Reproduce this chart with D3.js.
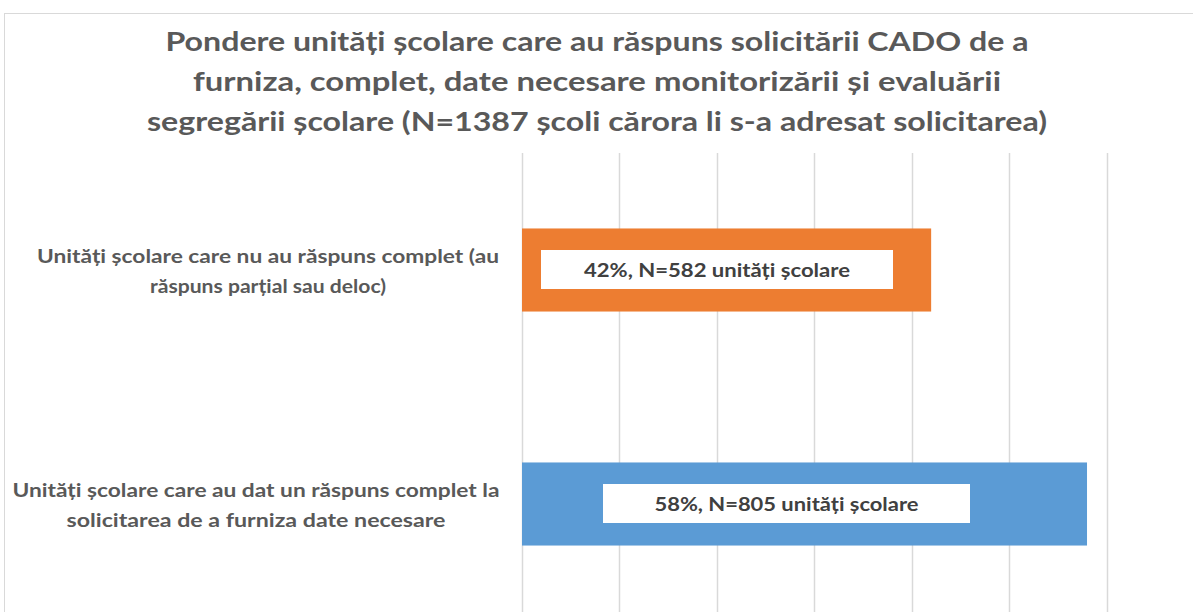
<!DOCTYPE html>
<html><head><meta charset="utf-8">
<script src="https://cdn.jsdelivr.net/npm/d3@7"></script>
<style>
html,body{margin:0;padding:0;background:#fff;overflow:hidden}
svg{display:block}
</style></head>
<body>
<svg id="chart" width="1193" height="612"></svg>
<script>
const titleLines = [
  "Pondere unități școlare care au răspuns solicitării CADO de a",
  "furniza, complet, date necesare monitorizării și evaluării",
  "segregării școlare (N=1387 școli cărora li s-a adresat solicitarea)"
];
const categories = [
  ["Unități școlare care nu au răspuns complet (au", "răspuns parțial sau deloc)"],
  ["Unități școlare care au dat un răspuns complet la", "solicitarea de a furniza date necesare"]
];
const values = [0.42, 0.58];
const counts = [582, 805];
const colors = ["#ED7D31", "#5B9BD5"];
const gridTicks = [0, 0.1, 0.2, 0.3, 0.4, 0.5, 0.6, 0.7];

const svg = d3.select("#chart");
const font = "Lato, 'Open Sans', sans-serif";

// chart border
svg.append("rect").attr("x", 4.5).attr("y", 13.5).attr("width", 1300).attr("height", 700)
  .attr("fill", "#fff").attr("stroke", "#d9d9d9").attr("stroke-width", 1);

const x = d3.scaleLinear().domain([0, 0.6]).range([522, 1106.5]);
const y = d3.scaleBand().domain(d3.range(categories.length)).range([153, 621])
  .paddingInner(0.645).paddingOuter(0.3225);

// gridlines
svg.append("g").selectAll("line").data(gridTicks).join("line")
  .attr("x1", d => Math.round(x(d)) + 0.5).attr("x2", d => Math.round(x(d)) + 0.5)
  .attr("y1", 153).attr("y2", 612)
  .attr("stroke", "#d9d9d9").attr("stroke-width", 1.5);

// title
const titleW = [863, 808, 900];
svg.append("g").selectAll("text").data(titleLines).join("text")
  .attr("x", 597).attr("y", (d, i) => 51 + i * 40.2)
  .attr("text-anchor", "middle")
  .attr("font-family", font).attr("font-weight", "bold").attr("font-size", 27)
  .attr("fill", "#595959")
  .attr("textLength", (d, i) => titleW[i]).attr("lengthAdjust", "spacingAndGlyphs")
  .text(d => d);

// bars
svg.append("g").selectAll("rect").data(values).join("rect")
  .attr("x", x(0)).attr("y", (d, i) => y(i))
  .attr("width", d => x(d) - x(0)).attr("height", y.bandwidth())
  .attr("fill", (d, i) => colors[i]);

// category labels
const catW = [[462, 236], [487, 379]];
const catCx = [268, 256];
categories.forEach((lines, i) => {
  const cy = y(i) + y.bandwidth() / 2;
  svg.append("g").selectAll("text").data(lines).join("text")
    .attr("x", catCx[i]).attr("y", (d, j) => cy - 7 + j * 29.8)
    .attr("text-anchor", "middle")
    .attr("font-family", font).attr("font-weight", "bold").attr("font-size", 18.5)
    .attr("fill", "#595959")
    .attr("textLength", (d, j) => catW[i][j]).attr("lengthAdjust", "spacingAndGlyphs")
    .text(d => d);
});

// data labels with white boxes
const boxX = [[541, 893], [603, 970]];
const lblW = [266, 264];
values.forEach((v, i) => {
  const cy = y(i) + y.bandwidth() / 2;
  const bx0 = boxX[i][0], bx1 = boxX[i][1];
  svg.append("rect").attr("x", bx0).attr("y", cy - 20).attr("width", bx1 - bx0).attr("height", 39)
    .attr("fill", "#fff");
  svg.append("text").attr("x", (bx0 + bx1) / 2).attr("y", cy + 6.5)
    .attr("text-anchor", "middle")
    .attr("font-family", font).attr("font-weight", "bold").attr("font-size", 18.5)
    .attr("fill", "#404040")
    .attr("textLength", lblW[i]).attr("lengthAdjust", "spacingAndGlyphs")
    .text(`${Math.round(v * 100)}%, N=${counts[i]} unități școlare`);
});
</script>
</body></html>
